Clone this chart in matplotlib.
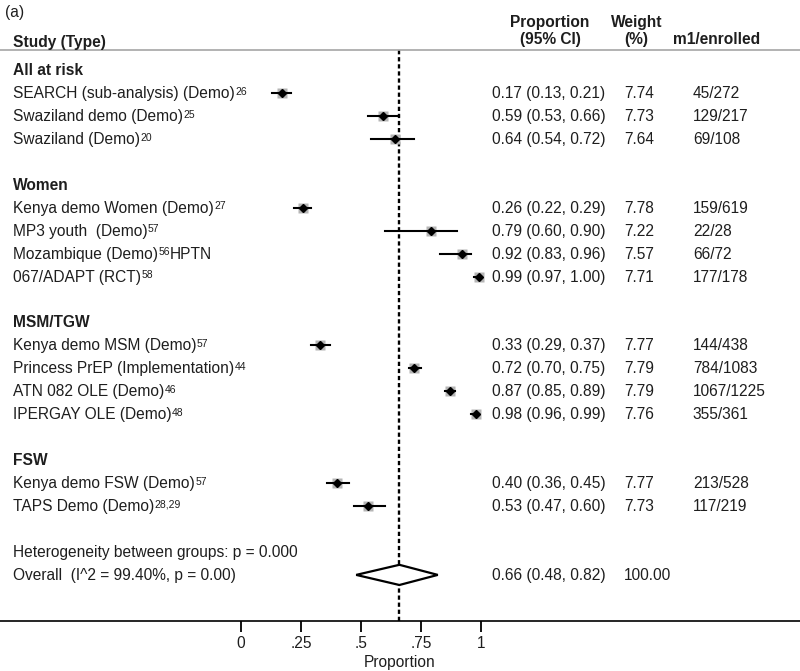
import numpy as np
import matplotlib
matplotlib.use("Agg")
import matplotlib.pyplot as plt
from matplotlib.patches import Polygon

plt.rcParams["font.family"] = ["Liberation Sans", "DejaVu Sans"]

# ---- data ----
groups = ["All at risk", "Women", "MSM/TGW", "FSW"]
group_of = [0, 0, 0, 1, 1, 1, 1, 2, 2, 2, 2, 3, 3]
studies = ["SEARCH (sub-analysis) (Demo)", "Swaziland demo (Demo)", "Swaziland (Demo)",
           "Kenya demo Women (Demo)", "MP3 youth  (Demo)", "Mozambique (Demo)", "067/ADAPT (RCT)",
           "Kenya demo MSM (Demo)", "Princess PrEP (Implementation)", "ATN 082 OLE (Demo)",
           "IPERGAY OLE (Demo)",
           "Kenya demo FSW (Demo)", "TAPS Demo (Demo)"]
refs = ["26", "25", "20", "27", "57", "56", "58", "57", "44", "46", "48", "57", "28,29"]
after_ref = ["", "", "", "", "", "HPTN", "", "", "", "", "", "", ""]
prop = [0.17, 0.59, 0.64, 0.26, 0.79, 0.92, 0.99, 0.33, 0.72, 0.87, 0.98, 0.40, 0.53]
lo = [0.13, 0.53, 0.54, 0.22, 0.60, 0.83, 0.97, 0.29, 0.70, 0.85, 0.96, 0.36, 0.47]
hi = [0.21, 0.66, 0.72, 0.29, 0.90, 0.96, 1.00, 0.37, 0.75, 0.89, 0.99, 0.45, 0.60]
weight = [7.74, 7.73, 7.64, 7.78, 7.22, 7.57, 7.71, 7.77, 7.79, 7.79, 7.76, 7.77, 7.73]
m1 = [45, 129, 69, 159, 22, 66, 177, 144, 784, 1067, 355, 213, 117]
enrolled = [272, 217, 108, 619, 28, 72, 178, 438, 1083, 1225, 361, 528, 219]

overall = 0.66
overall_lo = 0.48
overall_hi = 0.82
overall_weight = 100.00
het_text = "Heterogeneity between groups: p = 0.000"
overall_text = "Overall  (I^2 = 99.40%, p = 0.00)"

xticks = [0, 0.25, 0.5, 0.75, 1]
xticklabels = ["0", ".25", ".5", ".75", "1"]

# ---- figure ----
fig = plt.figure(figsize=(8, 6.71), dpi=100)
ax = fig.add_axes([0, 50 / 671, 1, 571 / 671])
ax.set_xlim(-241 / 240, 559 / 240)
ax.set_ylim(551 / 22.95, -20 / 22.95)

tc = "#1e1e1e"
fs = 11.2
col_label = -0.95
col_prop = 1.046
col_w = 1.596
col_n = 1.883
base = 0.22  # baseline offset below row centre

# assign rows: group header, its studies, blank line
rows = []
r = 0
for g in range(len(groups)):
    ax.text(col_label, r + base, groups[g], fontsize=fs, fontweight="bold",
            color=tc, va="baseline")
    r += 1
    for i in range(len(studies)):
        if group_of[i] == g:
            rows.append(r)
            r += 1
    r += 1
het_row = r
over_row = r + 1

for i in range(len(studies)):
    y = rows[i]
    t = ax.text(col_label, y + base, studies[i], fontsize=fs, color=tc, va="baseline")
    s = ax.annotate(refs[i], xy=(1, 1), xycoords=t, xytext=(0.3, -0.5),
                    textcoords="offset points", fontsize=7.5, color=tc,
                    ha="left", va="top")
    if after_ref[i]:
        ax.annotate(after_ref[i], xy=(1, y + base), xycoords=(s, "data"),
                    fontsize=fs, color=tc, ha="left", va="baseline")
    # weight square, CI line, point
    ms = 7.2 * np.sqrt(weight[i] / 7.75)
    ax.plot(prop[i], y, marker="s", ms=ms, color="#b5b5b5", mec="none", zorder=2)
    ax.plot([lo[i], hi[i]], [y, y], color="black", lw=1.5, zorder=3)
    ax.plot(prop[i], y, marker="D", ms=3.8, color="black", zorder=4)
    ax.text(col_prop, y + base, f"{prop[i]:.2f} ({lo[i]:.2f}, {hi[i]:.2f})",
            fontsize=fs, color=tc, va="baseline")
    ax.text(col_w, y + base, f"{weight[i]:.2f}", fontsize=fs, color=tc, va="baseline")
    ax.text(col_n, y + base, f"{m1[i]}/{enrolled[i]}", fontsize=fs, color=tc,
            va="baseline")

ax.text(col_label, het_row + base, het_text, fontsize=fs, color=tc, va="baseline")
ax.text(col_label, over_row + base, overall_text, fontsize=fs, color=tc, va="baseline")
h = 0.44
diamond = Polygon([[overall_lo, over_row], [overall, over_row - h],
                   [overall_hi, over_row], [overall, over_row + h]],
                  closed=True, facecolor="white", edgecolor="black", lw=1.6, zorder=3)
ax.add_patch(diamond)
ax.text(col_prop, over_row + base, f"{overall:.2f} ({overall_lo:.2f}, {overall_hi:.2f})",
        fontsize=fs, color=tc, va="baseline")
ax.text(col_w, over_row + base, f"{overall_weight:.2f}", fontsize=fs, color=tc,
        va="baseline")

# overall reference line
ax.axvline(overall, color="black", lw=1.7, dashes=(1.8, 1.2), zorder=1)

# headers
ax.text(-0.985, -2.5, "(a)", fontsize=fs, color=tc, va="center")
ax.text(col_label, -1.22, "Study (Type)", fontsize=fs, fontweight="bold", color=tc,
        va="center")
ax.text(1.2875, -2.09, "Proportion", fontsize=fs, fontweight="bold", color=tc,
        ha="center", va="center")
ax.text(1.2875, -1.31, "(95% CI)", fontsize=fs, fontweight="bold", color=tc,
        ha="center", va="center")
ax.text(1.648, -2.09, "Weight", fontsize=fs, fontweight="bold", color=tc,
        ha="center", va="center")
ax.text(1.648, -1.31, "(%)", fontsize=fs, fontweight="bold", color=tc,
        ha="center", va="center")
ax.text(1.8, -1.31, "m1/enrolled", fontsize=fs, fontweight="bold", color=tc,
        va="center")

# axes styling
for side in ["left", "right"]:
    ax.spines[side].set_visible(False)
ax.spines["top"].set_color("#a6a6a6")
ax.spines["top"].set_linewidth(1.2)
ax.spines["bottom"].set_color("black")
ax.spines["bottom"].set_linewidth(1.2)
ax.set_yticks([])
ax.set_xticks(xticks)
ax.set_xticklabels(xticklabels)
ax.tick_params(axis="x", direction="out", length=8, width=1.3, pad=3,
               labelsize=fs, labelcolor=tc)
ax.set_xlabel("Proportion", fontsize=fs, color=tc, labelpad=3)

fig.savefig("out.png", dpi=100)
